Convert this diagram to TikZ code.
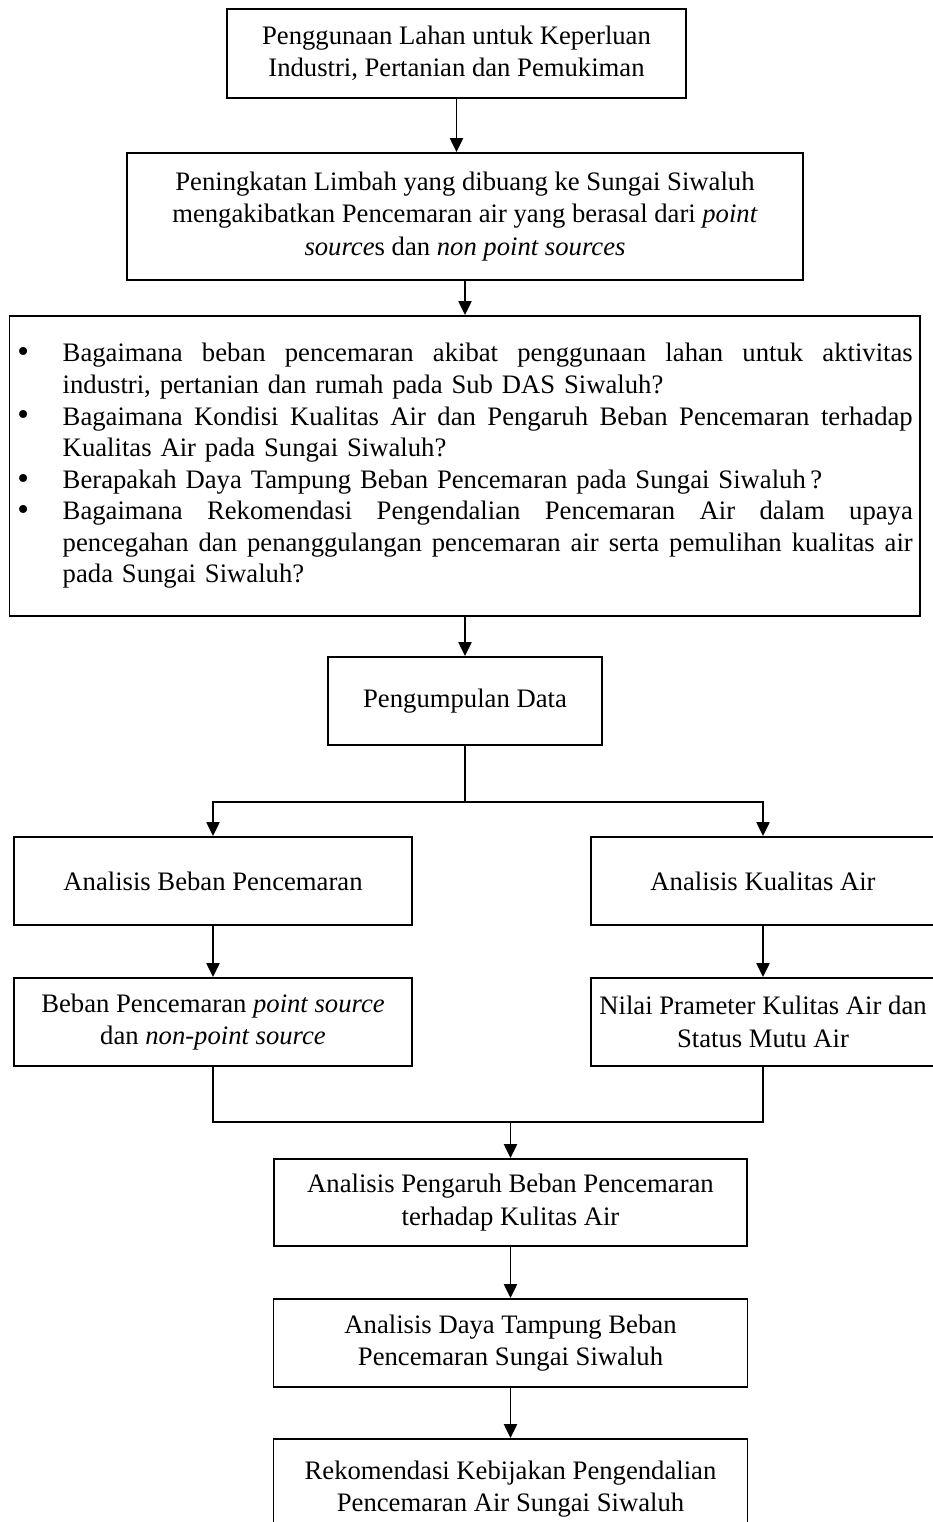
\documentclass[tikz,border=0pt]{standalone}
\usepackage{fontspec}
\setmainfont{Liberation Serif}
\usetikzlibrary{arrows.meta}
\newcommand\jl[1]{\hbox to 382.5pt{\spaceskip=0.25em plus 1fil\xspaceskip=\spaceskip\relax #1}}
\newcommand\bul{\makebox[20.7pt][l]{\hspace*{0.3pt}\smash{\raisebox{-0.4pt}{\fontsize{15}{12}\selectfont\textbullet}}}}
\begin{document}
\begin{tikzpicture}[x=0.45pt,y=-0.45pt,
  box/.style={draw, line width=0.85pt, inner sep=0pt, align=center, font=\fontsize{12}{14.6}\selectfont},
  arr/.style={line width=0.85pt, -{Triangle[length=6.3pt,width=5.9pt]}},
  ln/.style={line width=0.85pt}]
\useasboundingbox (0,0) rectangle (933,1522);
\clip (0,0) rectangle (933,1522);

\node[box, minimum width={459*0.45pt}, minimum height={89*0.45pt}] (b1) at (456.5,53.5)
  {Penggunaan Lahan untuk Keperluan\\Industri, Pertanian dan Pemukiman};

\node[box, minimum width={676*0.45pt}, minimum height={127*0.45pt}] (b2) at (465,216.5)
  {Peningkatan Limbah yang dibuang ke Sungai Siwaluh\\mengakibatkan Pencemaran air yang berasal dari \textit{point}\\\textit{source}s dan \textit{non point sources}};

\node[draw, line width=0.85pt, inner xsep=3.26pt, inner ysep=0pt, text width=403.2pt, align=left,
  minimum height={300*0.45pt}, font=\fontsize{12}{14.2}\selectfont] (b3) at (464.75,466)
  {\bul\jl{Bagaimana beban pencemaran akibat penggunaan lahan untuk aktivitas}\\
   \hspace*{20.7pt}industri, pertanian dan rumah pada Sub DAS Siwaluh?\\
   \bul\jl{Bagaimana Kondisi Kualitas Air dan Pengaruh Beban Pencemaran terhadap}\\
   \hspace*{20.7pt}Kualitas Air pada Sungai Siwaluh?\\
   \bul Berapakah Daya Tampung Beban Pencemaran pada Sungai Siwaluh\,?\\
   \bul\jl{Bagaimana Rekomendasi Pengendalian Pencemaran Air dalam upaya}\\
   \hspace*{20.7pt}\jl{pencegahan dan penanggulangan pencemaran air serta pemulihan kualitas air}\\
   \hspace*{20.7pt}pada Sungai Siwaluh?};

\node[box, minimum width={274*0.45pt}, minimum height={88*0.45pt}] (b4) at (465,701)
  {Pengumpulan Data};

\node[box, minimum width={398*0.45pt}, minimum height={88*0.45pt}] (b5l) at (213,881)
  {Analisis Beban Pencemaran};
\node[box, minimum width={344*0.45pt}, minimum height={88*0.45pt}] (b5r) at (763,881)
  {Analisis Kualitas Air};

\node[box, minimum width={398*0.45pt}, minimum height={88*0.45pt}] (b6l) at (213,1022)
  {Beban Pencemaran \textit{point source}\\dan \textit{non-point source}};
\node[box, minimum width={344*0.45pt}, minimum height={88*0.45pt}] (b6r) at (763,1022)
  {Nilai Prameter Kulitas Air dan\\Status Mutu Air};

\node[box, minimum width={473*0.45pt}, minimum height={87*0.45pt}] (b7) at (510.5,1202.5)
  {Analisis Pengaruh Beban Pencemaran\\terhadap Kulitas Air};
\node[box, minimum width={474*0.45pt}, minimum height={88*0.45pt}] (b8) at (510.5,1343)
  {Analisis Daya Tampung Beban\\Pencemaran Sungai Siwaluh};
\node[box, minimum width={474*0.45pt}, minimum height={100*0.45pt}] (b9) at (510.5,1489)
  {Rekomendasi Kebijakan Pengendalian\\Pencemaran Air Sungai Siwaluh};

\coordinate (fork) at (465,802);
\coordinate (join) at (510.5,1122);

\draw[arr] (b1.south) -- (b1.south |- b2.north);
\draw[arr] (b2.south) -- (b2.south |- b3.north);
\draw[arr] (b4.north |- b3.south) -- (b4.north);
\draw[ln] (b4.south) -- (fork);
\draw[arr] (fork) -| (b5l.north);
\draw[arr] (fork) -| (b5r.north);
\draw[arr] (b5l.south) -- (b6l.north);
\draw[arr] (b5r.south) -- (b6r.north);
\draw[ln] (b6l.south) |- (join) -| (b6r.south);
\draw[arr] (join) -- (b7.north);
\draw[arr] (b7.south) -- (b8.north);
\draw[arr] (b8.south) -- (b9.north);
\end{tikzpicture}
\end{document}
